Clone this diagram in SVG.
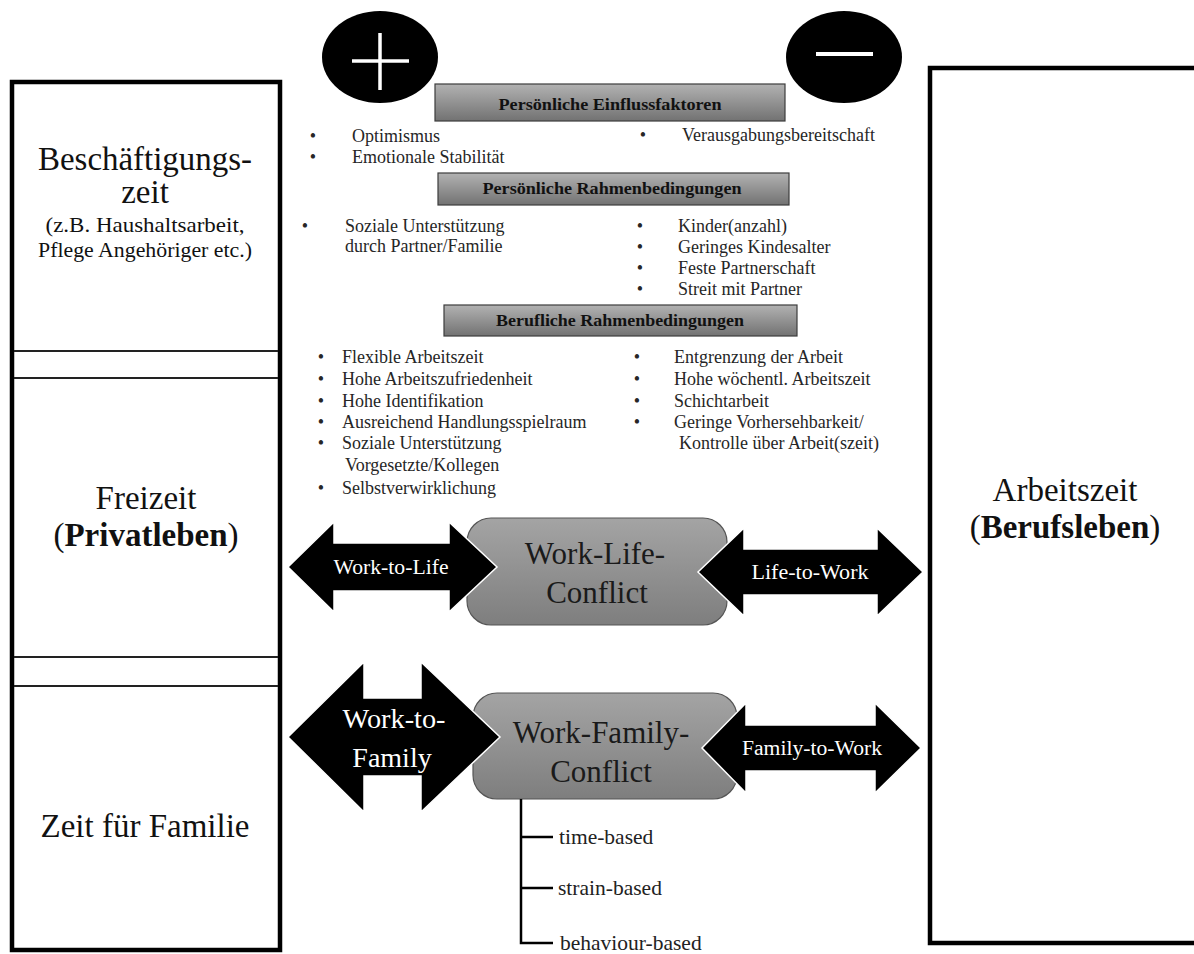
<svg xmlns="http://www.w3.org/2000/svg" width="1194" height="954" viewBox="0 0 1194 954">
  <defs>
    <linearGradient id="barFill" x1="0" y1="0" x2="0" y2="1">
      <stop offset="0" stop-color="#b2b2b2"/>
      <stop offset="1" stop-color="#727272"/>
    </linearGradient>
    <linearGradient id="pillFill" x1="0" y1="0" x2="0" y2="1">
      <stop offset="0" stop-color="#a4a4a4"/>
      <stop offset="1" stop-color="#7e7e7e"/>
    </linearGradient>
    <style>
      .frame { fill: #fff; stroke: #000; stroke-width: 4.5; }
      .sep { stroke: #222; stroke-width: 2; }
      .big { font-family: "Liberation Serif", "Times New Roman", serif; font-size: 33px; fill: #111; text-anchor: middle; }
      .sub { font-family: "Liberation Serif", "Times New Roman", serif; font-size: 22px; fill: #111; text-anchor: middle; }
      .bar { fill: url(#barFill); stroke: #3c3c3c; stroke-width: 1.2; }
      .barText { font-family: "Liberation Serif", "Times New Roman", serif; font-size: 16px; font-weight: bold; fill: #111; text-anchor: middle; }
      .item { font-family: "Liberation Serif", "Times New Roman", serif; font-size: 18px; fill: #262626; }
      .dot { font-family: "Liberation Serif", "Times New Roman", serif; font-size: 18px; fill: #262626; text-anchor: middle; }
      .pill { fill: url(#pillFill); stroke: #555; stroke-width: 1.2; }
      .pillText { font-family: "Liberation Serif", "Times New Roman", serif; font-size: 31px; fill: #1a1a1a; text-anchor: middle; }
      .arrow { fill: #000; stroke: #fff; stroke-width: 1.5; stroke-linejoin: miter; }
      .arrowText { font-family: "Liberation Serif", "Times New Roman", serif; font-size: 20px; fill: #fff; text-anchor: middle; }
      .arrowTextLarge { font-family: "Liberation Serif", "Times New Roman", serif; font-size: 28px; fill: #fff; text-anchor: middle; }
      .branch { fill: none; stroke: #000; stroke-width: 2.5; }
      .kind { font-family: "Liberation Serif", "Times New Roman", serif; font-size: 21.5px; fill: #222; }
    </style>
  </defs>

  <rect width="1194" height="954" fill="#fff"/>

  <!-- left column: private life -->
  <g id="private-life">
    <rect class="frame" x="12" y="82" width="268" height="868"/>
    <line class="sep" x1="14" y1="351" x2="278" y2="351"/>
    <line class="sep" x1="14" y1="378" x2="278" y2="378"/>
    <line class="sep" x1="14" y1="657" x2="278" y2="657"/>
    <line class="sep" x1="14" y1="686" x2="278" y2="686"/>
  </g>

  <g id="employment-time">
    <text class="big" x="145" y="170" textLength="214" lengthAdjust="spacingAndGlyphs">Beschäftigungs-</text>
    <text class="big" x="145" y="203">zeit</text>
    <text class="sub" x="145" y="232" textLength="199" lengthAdjust="spacingAndGlyphs">(z.B. Haushaltsarbeit,</text>
    <text class="sub" x="145" y="257" textLength="214" lengthAdjust="spacingAndGlyphs">Pflege Angehöriger etc.)</text>
  </g>

  <g id="leisure-time">
    <text class="big" x="146" y="509">Freizeit</text>
    <text class="big" x="146" y="546">(<tspan font-weight="bold">Privatleben</tspan>)</text>
  </g>

  <g id="family-time">
    <text class="big" x="145" y="837">Zeit für Familie</text>
  </g>

  <!-- right column: working life -->
  <g id="working-time">
    <rect class="frame" x="930" y="68" width="280" height="875"/>
    <text class="big" x="1065" y="501">Arbeitszeit</text>
    <text class="big" x="1065" y="538">(<tspan font-weight="bold">Berufsleben</tspan>)</text>
  </g>

  <!-- plus / minus markers -->
  <g id="positive">
    <ellipse cx="380" cy="57" rx="58" ry="46" fill="#000"/>
    <line x1="352" y1="61" x2="409" y2="61" stroke="#fff" stroke-width="3.5"/>
    <line x1="380" y1="33" x2="380" y2="90" stroke="#fff" stroke-width="3.5"/>
  </g>
  <g id="negative">
    <ellipse cx="844" cy="57" rx="58" ry="46" fill="#000"/>
    <line x1="816" y1="54" x2="873" y2="54" stroke="#fff" stroke-width="4"/>
  </g>

  <!-- personal factors -->
  <g id="personal-factors">
    <rect class="bar" x="435" y="84" width="350" height="37"/>
    <text class="barText" x="610" y="110" textLength="223" lengthAdjust="spacingAndGlyphs">Persönliche Einflussfaktoren</text>
    <text class="dot" x="313" y="142">•</text>
    <text class="item" x="352" y="142">Optimismus</text>
    <text class="dot" x="313" y="163">•</text>
    <text class="item" x="352" y="163">Emotionale Stabilität</text>
    <text class="dot" x="643" y="141">•</text>
    <text class="item" x="682" y="141">Verausgabungsbereitschaft</text>
  </g>

  <!-- personal conditions -->
  <g id="personal-conditions">
    <rect class="bar" x="438" y="173" width="351" height="32"/>
    <text class="barText" x="612" y="194" textLength="259" lengthAdjust="spacingAndGlyphs">Persönliche Rahmenbedingungen</text>
    <text class="dot" x="305" y="232">•</text>
    <text class="item" x="345" y="232">Soziale Unterstützung</text>
    <text class="item" x="345" y="252">durch Partner/Familie</text>
    <text class="dot" x="640" y="232">•</text>
    <text class="item" x="678" y="232">Kinder(anzahl)</text>
    <text class="dot" x="640" y="253">•</text>
    <text class="item" x="678" y="253">Geringes Kindesalter</text>
    <text class="dot" x="640" y="274">•</text>
    <text class="item" x="678" y="274">Feste Partnerschaft</text>
    <text class="dot" x="640" y="295">•</text>
    <text class="item" x="678" y="295">Streit mit Partner</text>
  </g>

  <!-- job conditions -->
  <g id="job-conditions">
    <rect class="bar" x="444" y="305" width="353" height="31"/>
    <text class="barText" x="620" y="326" textLength="248" lengthAdjust="spacingAndGlyphs">Berufliche Rahmenbedingungen</text>
    <text class="dot" x="321" y="363">•</text>
    <text class="item" x="342" y="363">Flexible Arbeitszeit</text>
    <text class="dot" x="321" y="385">•</text>
    <text class="item" x="342" y="385">Hohe Arbeitszufriedenheit</text>
    <text class="dot" x="321" y="407">•</text>
    <text class="item" x="342" y="407">Hohe Identifikation</text>
    <text class="dot" x="321" y="428">•</text>
    <text class="item" x="342" y="428">Ausreichend Handlungsspielraum</text>
    <text class="dot" x="321" y="449">•</text>
    <text class="item" x="342" y="449">Soziale Unterstützung</text>
    <text class="item" x="345" y="471">Vorgesetzte/Kollegen</text>
    <text class="dot" x="321" y="494">•</text>
    <text class="item" x="342" y="494">Selbstverwirklichung</text>
    <text class="dot" x="637" y="363">•</text>
    <text class="item" x="674" y="363">Entgrenzung der Arbeit</text>
    <text class="dot" x="637" y="385">•</text>
    <text class="item" x="674" y="385">Hohe wöchentl. Arbeitszeit</text>
    <text class="dot" x="637" y="407">•</text>
    <text class="item" x="674" y="407">Schichtarbeit</text>
    <text class="dot" x="637" y="428">•</text>
    <text class="item" x="674" y="428">Geringe Vorhersehbarkeit/</text>
    <text class="item" x="679" y="449">Kontrolle über Arbeit(szeit)</text>
  </g>

  <!-- conflict nodes -->
  <g id="work-life-conflict">
    <rect class="pill" x="467" y="518" width="260" height="107" rx="24"/>
    <text class="pillText" x="595" y="564">Work-Life-</text>
    <text class="pillText" x="597" y="603">Conflict</text>
  </g>

  <g id="work-family-conflict">
    <rect class="pill" x="473" y="693" width="264" height="106" rx="24"/>
    <text class="pillText" x="601" y="743">Work-Family-</text>
    <text class="pillText" x="601" y="782">Conflict</text>
  </g>

  <!-- connectors: double arrows and conflict types -->
  <g id="connectors">
    <g id="work-to-life">
      <polygon class="arrow" points="288,567 334,522 334,543 449,543 449,522 497,567 449,612 449,591 334,591 334,612"/>
      <text class="arrowText" x="391" y="574" textLength="115" lengthAdjust="spacingAndGlyphs">Work-to-Life</text>
    </g>
    <g id="life-to-work">
      <polygon class="arrow" points="698,572 744,528 744,549 877,549 877,528 923,572 877,616 877,595 744,595 744,616"/>
      <text class="arrowText" x="810" y="579" textLength="117" lengthAdjust="spacingAndGlyphs">Life-to-Work</text>
    </g>
    <g id="work-to-family">
      <polygon class="arrow" points="288,737 364,662 364,698 421,698 421,662 500,737 421,812 421,776 364,776 364,812"/>
      <text class="arrowTextLarge" x="394" y="728" textLength="103" lengthAdjust="spacingAndGlyphs">Work-to-</text>
      <text class="arrowTextLarge" x="392" y="767">Family</text>
    </g>
    <g id="family-to-work">
      <polygon class="arrow" points="702,748 746,703 746,725 875,725 875,703 921,748 875,793 875,771 746,771 746,793"/>
      <text class="arrowText" x="812" y="755" textLength="140" lengthAdjust="spacingAndGlyphs">Family-to-Work</text>
    </g>
    <g id="conflict-types">
      <path class="branch" d="M521,799 V943 H553 M521,837 H553 M521,888 H553"/>
      <text class="kind" x="559" y="844">time-based</text>
      <text class="kind" x="558" y="895">strain-based</text>
      <text class="kind" x="560" y="950">behaviour-based</text>
    </g>
  </g>
</svg>
